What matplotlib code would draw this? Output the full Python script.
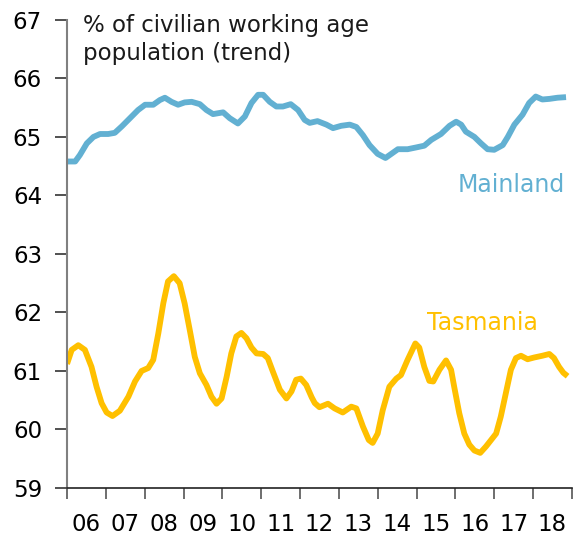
import matplotlib.pyplot as plt

# participation rate, trend series (decimal years)
mainland_year = [2006.00, 2006.21, 2006.33, 2006.51, 2006.68, 2006.85, 2007.06, 2007.23,
                 2007.41, 2007.62, 2007.83, 2008.01, 2008.22, 2008.39, 2008.52, 2008.69,
                 2008.86, 2009.03, 2009.21, 2009.42, 2009.59, 2009.76, 2010.02, 2010.19,
                 2010.40, 2010.58, 2010.75, 2010.92, 2011.05, 2011.22, 2011.39, 2011.56,
                 2011.76, 2011.95, 2012.12, 2012.25, 2012.45, 2012.68, 2012.85, 2013.06,
                 2013.28, 2013.45, 2013.62, 2013.79, 2014.00, 2014.20, 2014.35, 2014.52,
                 2014.77, 2014.99, 2015.20, 2015.38, 2015.63, 2015.85, 2016.02, 2016.15,
                 2016.27, 2016.49, 2016.66, 2016.83, 2017.00, 2017.22, 2017.35, 2017.52,
                 2017.73, 2017.90, 2018.07, 2018.24, 2018.42, 2018.63, 2018.85]
mainland = [64.58, 64.58, 64.69, 64.89, 65.00, 65.05, 65.05, 65.07,
            65.18, 65.32, 65.46, 65.55, 65.55, 65.63, 65.67, 65.60,
            65.55, 65.59, 65.60, 65.56, 65.46, 65.39, 65.42, 65.32,
            65.23, 65.35, 65.58, 65.72, 65.72, 65.60, 65.52, 65.52,
            65.56, 65.46, 65.29, 65.24, 65.27, 65.21, 65.15, 65.19,
            65.21, 65.17, 65.03, 64.86, 64.71, 64.64, 64.71, 64.79,
            64.79, 64.82, 64.85, 64.95, 65.05, 65.19, 65.26, 65.21,
            65.09, 65.00, 64.89, 64.79, 64.78, 64.86, 65.00, 65.21,
            65.38, 65.58, 65.69, 65.64, 65.65, 65.67, 65.68]

tas_year = [2006.00, 2006.12, 2006.29, 2006.46, 2006.63, 2006.76, 2006.89, 2007.02,
            2007.17, 2007.36, 2007.58, 2007.75, 2007.92, 2008.09, 2008.22, 2008.35,
            2008.48, 2008.60, 2008.75, 2008.90, 2009.03, 2009.16, 2009.29, 2009.42,
            2009.59, 2009.72, 2009.85, 2009.98, 2010.11, 2010.23, 2010.36, 2010.49,
            2010.62, 2010.75, 2010.88, 2011.05, 2011.17, 2011.30, 2011.48, 2011.65,
            2011.78, 2011.90, 2012.02, 2012.16, 2012.30, 2012.38, 2012.50, 2012.72,
            2012.89, 2013.10, 2013.32, 2013.45, 2013.62, 2013.77, 2013.87, 2014.00,
            2014.13, 2014.30, 2014.48, 2014.60, 2014.77, 2014.97, 2015.07, 2015.20,
            2015.33, 2015.43, 2015.59, 2015.76, 2015.89, 2015.97, 2016.10, 2016.23,
            2016.36, 2016.49, 2016.64, 2016.79, 2016.92, 2017.05, 2017.17, 2017.30,
            2017.43, 2017.56, 2017.69, 2017.86, 2018.03, 2018.24, 2018.42, 2018.54,
            2018.67, 2018.78, 2018.89]
tasmania = [61.12, 61.36, 61.44, 61.36, 61.07, 60.73, 60.45, 60.29,
            60.23, 60.32, 60.56, 60.82, 61.00, 61.05, 61.19, 61.64,
            62.16, 62.53, 62.62, 62.50, 62.15, 61.70, 61.24, 60.96,
            60.76, 60.56, 60.44, 60.53, 60.90, 61.30, 61.59, 61.65,
            61.56, 61.40, 61.30, 61.29, 61.22, 60.99, 60.68, 60.53,
            60.65, 60.85, 60.87, 60.76, 60.55, 60.45, 60.38, 60.44,
            60.36, 60.29, 60.39, 60.36, 60.05, 59.82, 59.77, 59.93,
            60.33, 60.73, 60.87, 60.93, 61.19, 61.47, 61.40, 61.07,
            60.83, 60.82, 61.02, 61.18, 61.02, 60.73, 60.28, 59.93,
            59.74, 59.64, 59.60, 59.71, 59.82, 59.93, 60.22, 60.62,
            61.02, 61.22, 61.26, 61.20, 61.23, 61.26, 61.29, 61.22,
            61.07, 60.97, 60.91]

years = list(range(2006, 2019))
year_labels = ["06", "07", "08", "09", "10", "11", "12", "13", "14", "15", "16", "17", "18"]

blue = "#62B0D2"
gold = "#FFC000"

plt.rcParams["font.family"] = "DejaVu Sans"
fig = plt.figure(figsize=(5.73, 5.38), dpi=100)
ax = fig.add_axes([0.117, 0.093, 0.881, 0.870])

ax.plot(mainland_year, mainland, color=blue, lw=4.2, solid_joinstyle="round", solid_capstyle="butt")
ax.plot(tas_year, tasmania, color=gold, lw=4.2, solid_joinstyle="round", solid_capstyle="butt")

ax.set_xlim(2006, 2019)
ax.set_ylim(59, 67)
ax.set_yticks(range(59, 68))

# year boundaries get tick marks, labels sit mid-year
ax.set_xticks(years + [2019])
ax.set_xticklabels([])
ax.set_xticks([y + 0.5 for y in years], minor=True)
ax.set_xticklabels(year_labels, minor=True)
ax.tick_params(axis="x", which="major", direction="out", length=8, width=1.2, color="#555555")
ax.tick_params(axis="x", which="minor", length=0, pad=18, labelsize=16.5)
ax.tick_params(axis="y", direction="out", length=9, width=1.2, color="#333333", pad=9, labelsize=16.5)

for s in ["top", "right"]:
    ax.spines[s].set_visible(False)
ax.spines["left"].set_color("#808080")
ax.spines["left"].set_linewidth(1.5)
ax.spines["bottom"].set_color("#222222")
ax.spines["bottom"].set_linewidth(1.2)

ax.text(2006.42, 67.1, "% of civilian working age\npopulation (trend)", fontsize=16.5,
        va="top", ha="left", color="#1a1a1a", linespacing=1.3)
ax.text(2018.82, 64.18, "Mainland", color=blue, fontsize=17, ha="right", va="center")
ax.text(2018.12, 61.82, "Tasmania", color=gold, fontsize=17, ha="right", va="center")

fig.savefig("out.png", dpi=100)
